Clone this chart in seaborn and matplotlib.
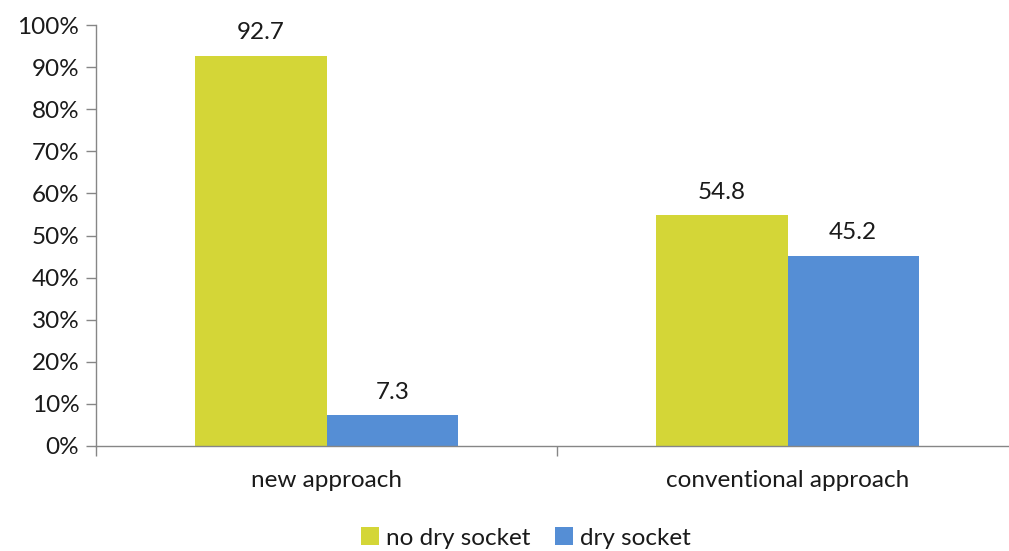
import matplotlib
matplotlib.use("Agg")
import matplotlib.pyplot as plt
from matplotlib.ticker import FixedLocator, FuncFormatter
import seaborn as sns
import pandas as pd

# Share of extractions with / without dry socket, per surgical approach (%)
approaches = ["new approach", "conventional approach"]
outcomes = ["no dry socket", "dry socket"]
no_dry_socket = [92.7, 54.8]
dry_socket = [7.3, 45.2]
y_ticks = [0, 10, 20, 30, 40, 50, 60, 70, 80, 90, 100]

colors = ["#D4D637", "#558ED5"]
text_color = "#1a1a1a"
font_size = 17.5

df = pd.DataFrame({
    "approach": approaches * 2,
    "outcome": [outcomes[0]] * len(approaches) + [outcomes[1]] * len(approaches),
    "value": no_dry_socket + dry_socket,
})

sns.set_theme(style="white")
plt.rcParams["font.family"] = ["Lato", "DejaVu Sans"]

fig = plt.figure(figsize=(10.09, 5.51), dpi=100)
ax = fig.add_axes([96 / 1009, 1 - 446 / 551, 922 / 1009, 421 / 551])

sns.barplot(data=df, x="approach", y="value", hue="outcome", order=approaches,
            hue_order=outcomes, palette=colors, width=0.57, saturation=1,
            edgecolor="none", linewidth=0, ax=ax, legend=True)

for container in ax.containers:
    ax.bar_label(container, fmt="%.1f", padding=9, fontsize=font_size, color=text_color)

ax.set_ylim(0, 100)
ax.set_xlim(-0.5, 1.5)
ax.yaxis.set_major_locator(FixedLocator(y_ticks))
ax.yaxis.set_major_formatter(FuncFormatter(lambda v, _: f"{v:.0f}%"))
ax.set_xlabel("")
ax.set_ylabel("")

# Category separators as minor ticks below the x axis; no ticks under the labels
ax.xaxis.set_minor_locator(FixedLocator([-0.5, 0.5, 1.5]))
ax.tick_params(axis="x", which="major", length=0, pad=17, labelsize=font_size, labelcolor=text_color)
ax.tick_params(axis="x", which="minor", bottom=True, length=7, width=1, color="#868686", direction="out")
ax.tick_params(axis="y", left=True, length=7, width=1, color="#868686", direction="out",
               labelsize=font_size, labelcolor=text_color, pad=5)

for side in ["top", "right"]:
    ax.spines[side].set_visible(False)
for side in ["left", "bottom"]:
    ax.spines[side].set_color("#868686")
    ax.spines[side].set_linewidth(1)

handles, labels = ax.get_legend_handles_labels()
ax.get_legend().remove()
fig.legend(handles, labels, loc="center", bbox_to_anchor=(526 / 1009, 1 - 538 / 551),
           ncol=2, frameon=False, fontsize=font_size, handlelength=0.75, handleheight=0.75,
           handletextpad=0.3, columnspacing=1.0, labelcolor=text_color)

fig.savefig("out.png", dpi=100)
